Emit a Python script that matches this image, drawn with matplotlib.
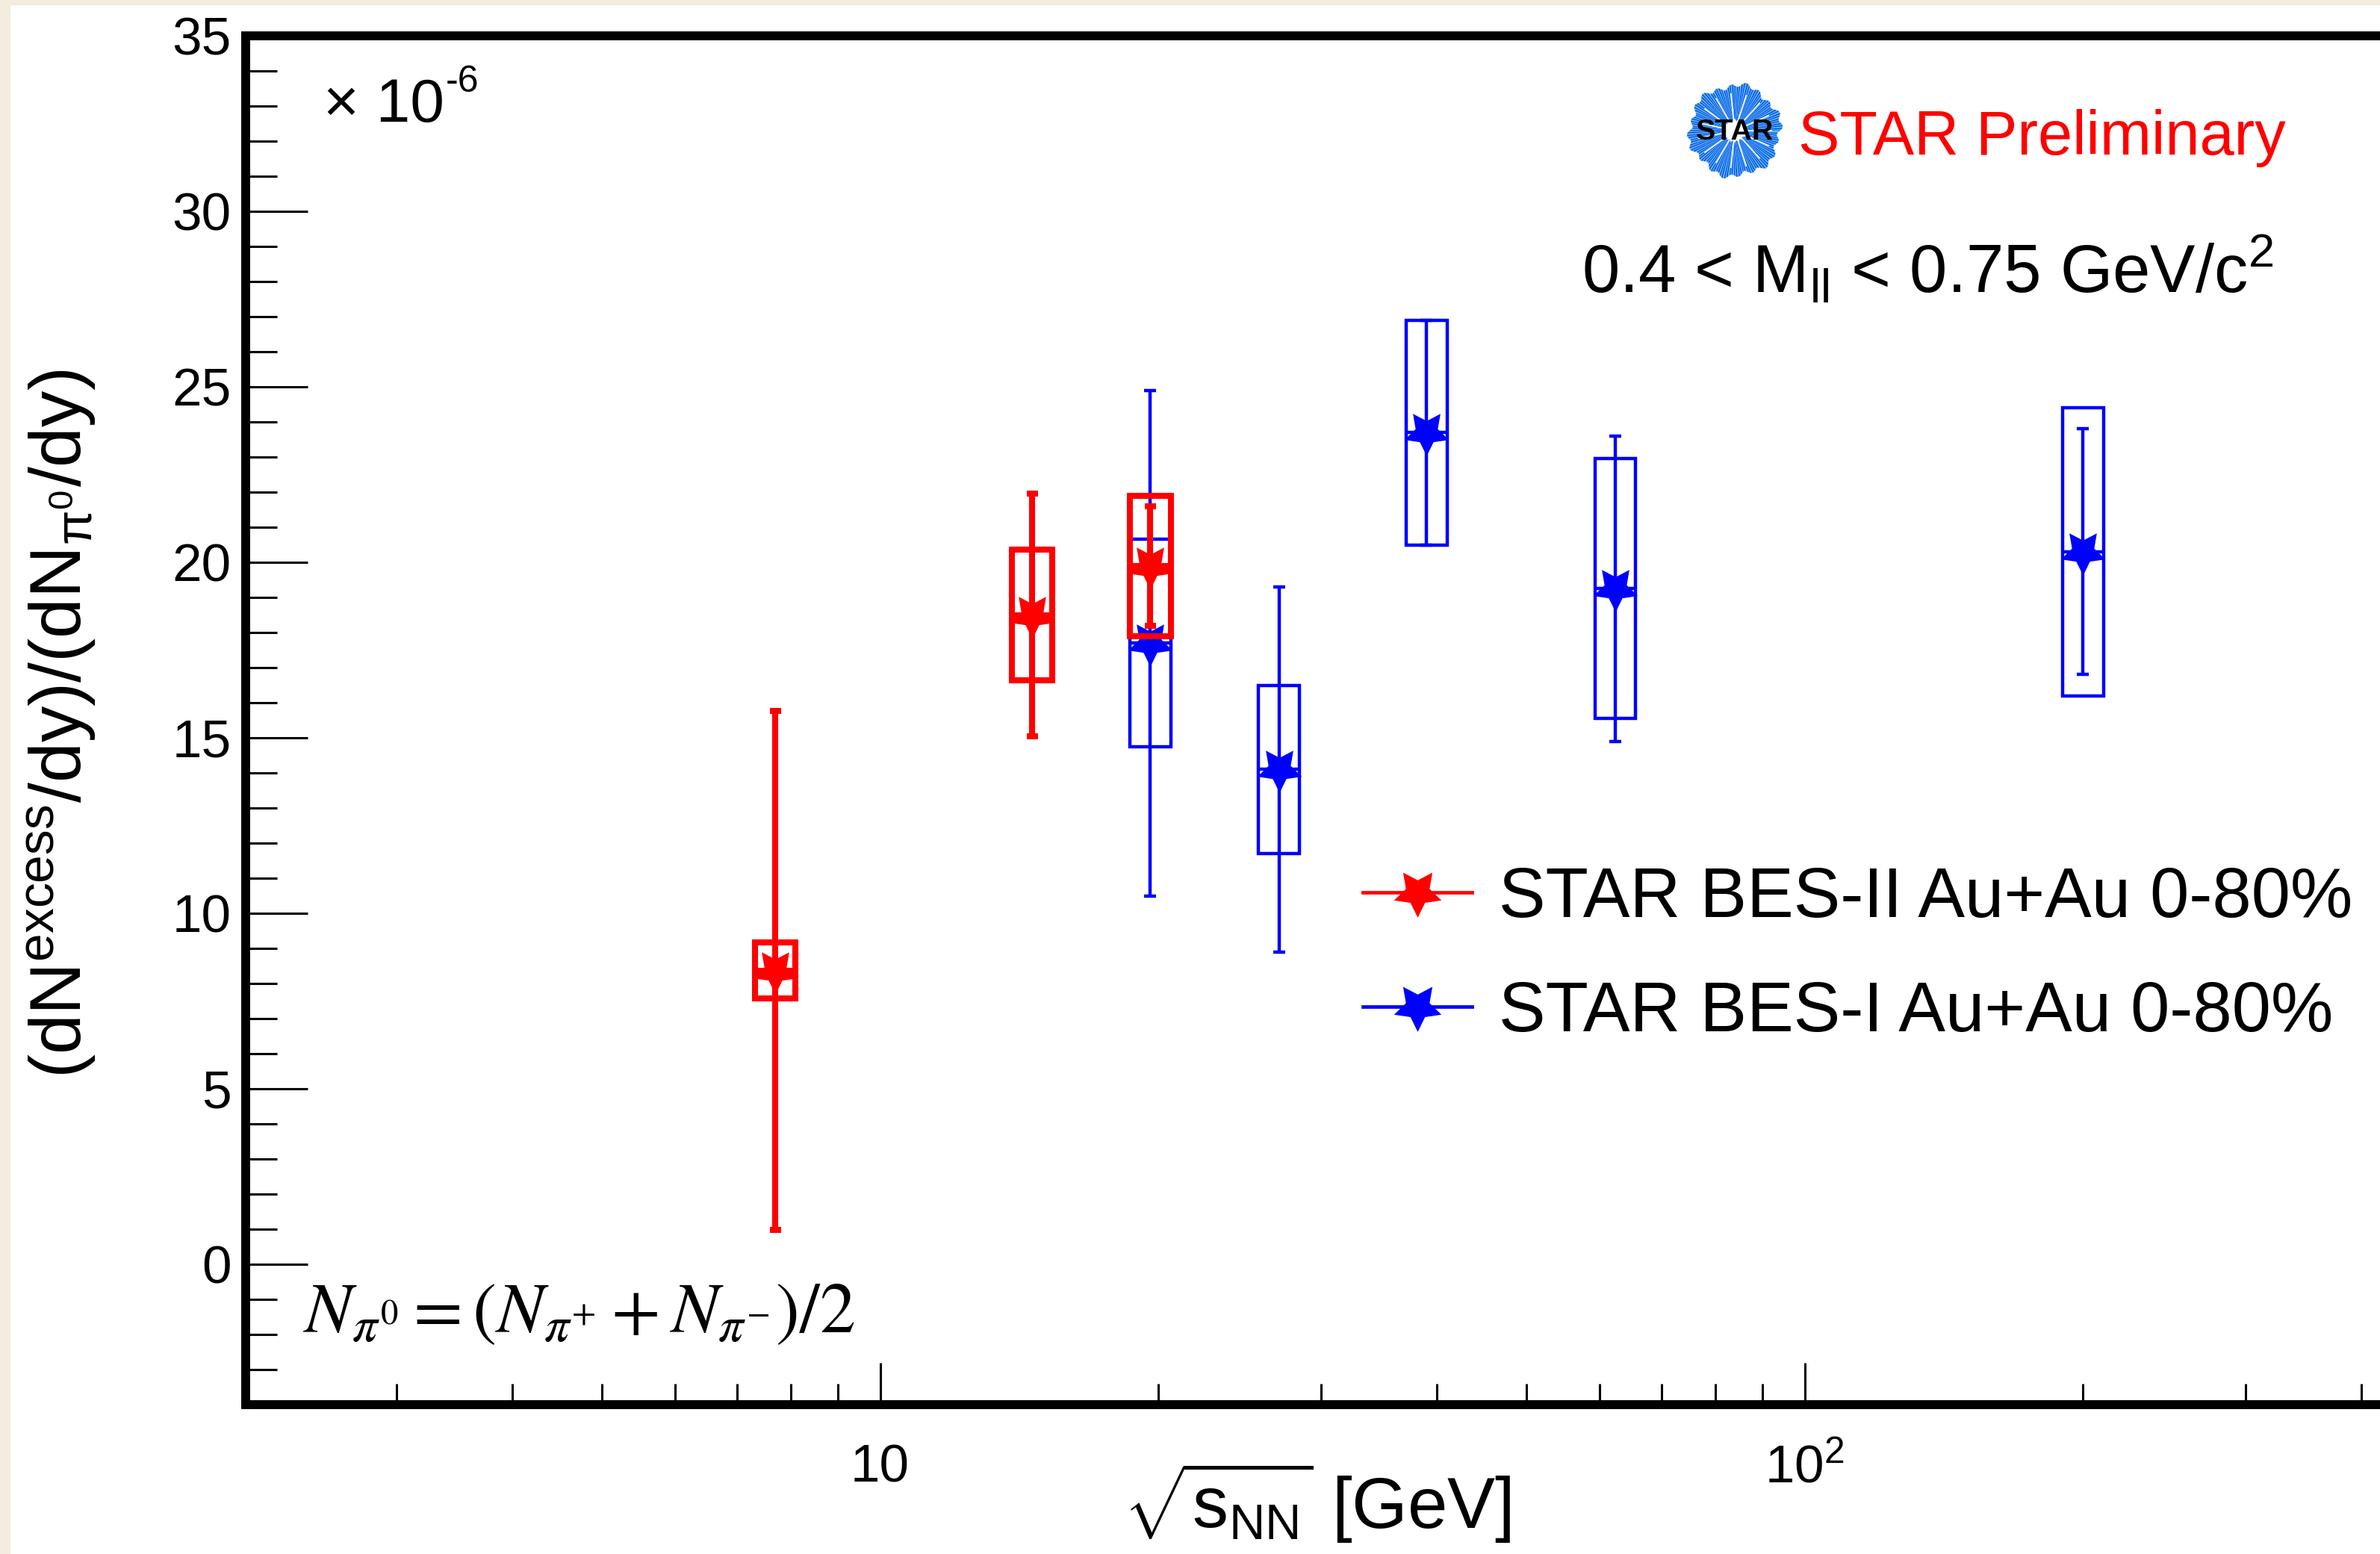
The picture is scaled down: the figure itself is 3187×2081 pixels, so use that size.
import numpy as np
import matplotlib

matplotlib.use("Agg")

import matplotlib.pyplot as plt
from matplotlib.collections import LineCollection
from matplotlib.lines import Line2D
from matplotlib.markers import MarkerStyle
from matplotlib.patches import Circle, Rectangle
from matplotlib.ticker import FixedLocator, NullFormatter

plt.rcParams["font.family"] = ["Liberation Sans", "DejaVu Sans"]
plt.rcParams["mathtext.fontset"] = "custom"
plt.rcParams["mathtext.rm"] = "Liberation Sans"
plt.rcParams["mathtext.it"] = "Liberation Sans:italic"
plt.rcParams["mathtext.bf"] = "Liberation Sans:bold"

# excess yield / pi0 yield, in units of 1e-6
bes2_energy = [7.7, 14.6, 19.6]
bes2_ratio = [8.37, 18.5, 19.9]
bes2_stat = [7.4, 3.45, 1.7]
bes2_sys = [0.8, 1.86, 2.0]

bes1_energy = [19.6, 27.0, 39.0, 62.4, 200.0]
bes1_ratio = [17.7, 14.1, 23.7, 19.25, 20.3]
bes1_stat = [7.2, 5.2, 3.2, 4.35, 3.5]
bes1_sys = [2.95, 2.4, 3.2, 3.7, 4.1]

legend_labels = ["STAR BES-II Au+Au 0-80%", "STAR BES-I Au+Au 0-80%"]

y_major = [0, 5, 10, 15, 20, 25, 30, 35]
y_minor = [v for v in range(-4, 35) if v % 5 != 0]
x_major = [10, 100]
x_major_labels = ["10", r"$\mathrm{10^{2}}$"]
x_minor = [3, 4, 5, 6, 7, 8, 9, 20, 30, 40, 50, 60, 70, 80, 90, 200, 300, 400]

W, H, DPI = 3187, 2081, 200
BEIGE = "#f4ecdc"
STAR = MarkerStyle((5, 1, 180))
BOX_HALF = 10 ** 0.022


def fx(px):
    return px / W


def fy(py):
    return 1 - py / H


def draw_series(ax, energy, ratio, stat, sys, color, lw, cap, zorder):
    for e, v, s in zip(energy, ratio, sys):
        lo, hi = e / BOX_HALF, e * BOX_HALF
        ax.add_patch(Rectangle((lo, v - s), hi - lo, 2 * s, fill=False,
                               edgecolor=color, lw=lw, zorder=zorder))
        ax.plot([lo, hi], [v, v], color=color, lw=lw, zorder=zorder,
                solid_capstyle="butt")
    ax.errorbar(energy, ratio, yerr=stat, fmt="none", ecolor=color,
                elinewidth=lw, capsize=cap, capthick=lw, zorder=zorder + 0.1)
    ax.plot(energy, ratio, linestyle="none", marker=STAR, markersize=22.5,
            color=color, markeredgewidth=0, zorder=zorder + 0.2)


fig = plt.figure(figsize=(W / DPI, H / DPI), dpi=DPI, facecolor="white")
fig.add_artist(Rectangle((0, 0), fx(14), 1, transform=fig.transFigure,
                         color=BEIGE, lw=0, zorder=-10))
fig.add_artist(Rectangle((0, fy(7)), 1, 7 / H, transform=fig.transFigure,
                         color=BEIGE, lw=0, zorder=-10))

ax = fig.add_axes([fx(329), fy(1881), 2953 / W, 1833 / H])
ax.set_xscale("log")
ax.set_xlim(2.06, 500)
ax.set_ylim(-4, 35)

draw_series(ax, bes1_energy, bes1_ratio, bes1_stat, bes1_sys, "#0000ff", 1.6, 2.9, 3)
draw_series(ax, bes2_energy, bes2_ratio, bes2_stat, bes2_sys, "#ff0000", 2.9, 2.7, 4)

for side in ["top", "bottom", "left", "right"]:
    ax.spines[side].set_linewidth(4.3)
    ax.spines[side].set_color("black")

ax.yaxis.set_major_locator(FixedLocator(y_major))
ax.yaxis.set_minor_locator(FixedLocator(y_minor))
ax.xaxis.set_major_locator(FixedLocator(x_major))
ax.xaxis.set_minor_locator(FixedLocator(x_minor))
ax.xaxis.set_minor_formatter(NullFormatter())
ax.yaxis.set_minor_formatter(NullFormatter())
ax.tick_params(axis="y", which="major", direction="in", length=30, width=1.1,
               labelsize=25.6, pad=7, right=False)
ax.tick_params(axis="y", which="minor", direction="in", length=15, width=1.1, right=False)
ax.tick_params(axis="x", which="major", direction="in", length=20, width=1.1,
               labelbottom=False, top=False)
ax.tick_params(axis="x", which="minor", direction="in", length=10, width=1.1,
               labelbottom=False, top=False)

# x tick labels sit on a common baseline
for v, t in zip(x_major, x_major_labels):
    ax.text(v, -0.0567, t, transform=ax.get_xaxis_transform(), ha="center",
            va="baseline", fontsize=25.6)

ax.set_ylabel(r"$\mathrm{(dN^{excess}/dy)/(dN_{\pi^{0}}/dy)}$", fontsize=34.8)
ax.yaxis.set_label_coords(-0.0833, 0.4975)
ax.yaxis.label.set_va("center")
ax.set_xlabel(r"$\sqrt{\mathrm{s_{NN}}}$ [GeV]", fontsize=34.5)
ax.xaxis.set_label_coords(0.4858, -0.0906)
ax.xaxis.label.set_va("baseline")

handles = [
    Line2D([], [], color="#ff0000", lw=1.7, marker=STAR, markersize=24, markeredgewidth=0),
    Line2D([], [], color="#0000ff", lw=1.7, marker=STAR, markersize=24, markeredgewidth=0),
]
ax.legend(handles, legend_labels, loc="center left", bbox_to_anchor=(0.5066, 0.328),
          frameon=False, fontsize=33.8, handlelength=1.56, handletextpad=0.38,
          labelspacing=0.68, borderpad=0, borderaxespad=0)

fig.text(fx(433), fy(163), "\u00d7 10", fontsize=29.5, va="baseline", ha="left")
fig.text(fx(597), fy(123), "-6", fontsize=18, va="baseline", ha="left")
fig.text(fx(2408), fy(207), "STAR Preliminary", color="#ff0000", fontsize=29.9,
         va="baseline", ha="left")
fig.text(fx(2118), fy(392), r"0.4 < M$_{\mathrm{ll}}$ < 0.75 GeV/c$^{\mathrm{2}}$",
         fontsize=32.6, va="baseline", ha="left")
fig.text(fx(406), fy(1784), r"$N_{\pi^{0}} = (N_{\pi^{+}} + N_{\pi^{-}})/2$",
         fontsize=34.4, math_fontfamily="stix", va="baseline", ha="left")

# STAR logo: blue starburst with the name across it
logo = fig.add_axes([fx(2256), fy(242), 134 / W, 134 / H])
logo.set_xlim(-1, 1)
logo.set_ylim(-1, 1)
logo.axis("off")
logo.add_patch(Circle((0, 0), 0.85, color="#6f9dff", alpha=0.35, lw=0))
angles = np.linspace(0, 2 * np.pi, 360, endpoint=False)
outer = 0.9 + 0.08 * np.sin(13 * angles) * np.cos(7 * angles)
inner = 0.2 + 0.05 * np.abs(np.sin(9 * angles))
segments = [[(r0 * np.cos(a), r0 * np.sin(a)), (r1 * np.cos(a), r1 * np.sin(a))]
            for a, r0, r1 in zip(angles, inner, outer)]
ray_colors = ["#1436f0", "#3f8cff", "#2fc4ea", "#0a1fc8", "#6aa8ff", "#41d0f0"]
logo.add_collection(LineCollection(segments, colors=[ray_colors[i % 6] for i in range(len(segments))],
                                   linewidths=0.6))
white_rays = angles[::24]
logo.add_collection(LineCollection(
    [[(0.2 * np.cos(a), 0.2 * np.sin(a)), (0.75 * np.cos(a), 0.75 * np.sin(a))] for a in white_rays],
    colors="white", linewidths=0.6))
logo.add_patch(Circle((0, 0), 0.22, color="white", lw=0))
logo.text(0, -0.03, "STAR", fontsize=14.2, fontweight="bold", ha="center", va="center")

fig.savefig("out.png", dpi=DPI, facecolor="white")
